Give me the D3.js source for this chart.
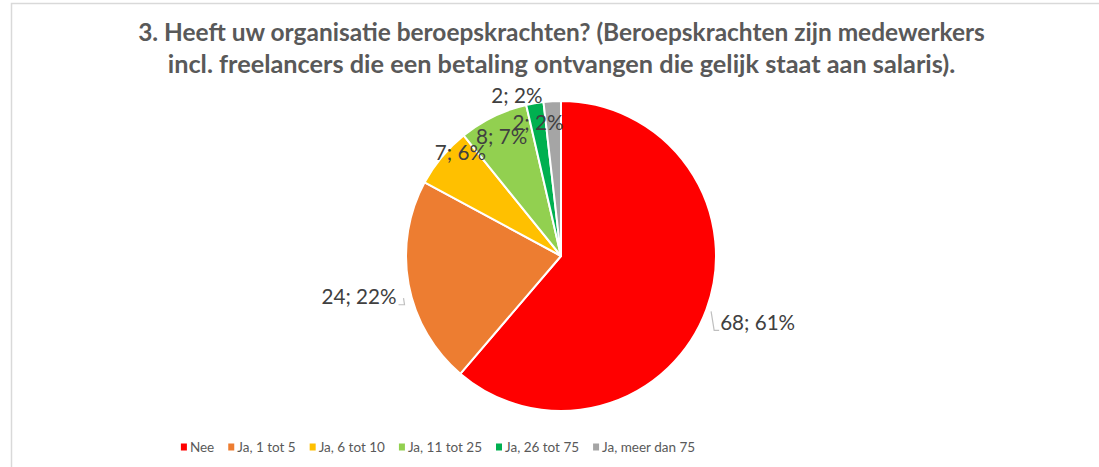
<!DOCTYPE html>
<html>
<head>
<meta charset="utf-8">
<script src="https://cdn.jsdelivr.net/npm/d3@7"></script>
<style>
  body { margin: 0; background: #fff; }
  svg { display: block; font-family: Lato, "Open Sans", sans-serif; }
</style>
</head>
<body>
<svg></svg>
<script>
var categories = ["Nee", "Ja, 1 tot 5", "Ja, 6 tot 10", "Ja, 11 tot 25", "Ja, 26 tot 75", "Ja, meer dan 75"];
var values = [68, 24, 7, 8, 2, 2];
var percents = [61, 22, 6, 7, 2, 2];
var colors = ["#ff0000", "#ed7d31", "#ffc000", "#92d050", "#00b050", "#a5a5a5"];
var titleLines = ["3. Heeft uw organisatie beroepskrachten? (Beroepskrachten zijn medewerkers",
                  "incl. freelancers die een betaling ontvangen die gelijk staat aan salaris)."];

// label placement: radius factor and angle shift (degrees) per slice
var labelPlace = [
  {r: 1.34, shift: -1.5, leader: true},
  {r: 1.33, shift: -1, leader: true},
  {r: 0.93, shift: 6, leader: false},
  {r: 0.86, shift: -0.5, leader: false},
  {r: 1.07, shift: -5.7, leader: false},
  {r: 0.87, shift: -6.6, leader: false}
];

var svgWidth = 1099, svgHeight = 467;
var cx = 561, cy = 256, radius = 155;

var svg = d3.select("svg")
  .attr("width", svgWidth)
  .attr("height", svgHeight);

// chart border
svg.append("rect")
  .attr("x", 11.5).attr("y", 3.5)
  .attr("width", 1100).attr("height", 480)
  .attr("fill", "none")
  .attr("stroke", "#d9d9d9")
  .attr("stroke-width", 1.5);

// font size that makes a text node match a target width
function fitSize(sel, target) {
  var fs = parseFloat(sel.attr("font-size"));
  var w = sel.node().getComputedTextLength();
  return fs * target / w;
}

var titleTargets = [847, 788];
titleLines.forEach(function(t, i) {
  var tt = svg.append("text")
    .attr("x", 561.5)
    .attr("y", 41 + i * 32)
    .attr("text-anchor", "middle")
    .attr("font-weight", "bold")
    .attr("font-size", 23)
    .attr("fill", "#595959")
    .text(t);
  tt.attr("font-size", fitSize(tt, titleTargets[i]).toFixed(2));
});

var pie = d3.pie().sort(null).value(function(d) { return d; });
var arcs = pie(values);
var arc = d3.arc().innerRadius(0).outerRadius(radius);

var g = svg.append("g").attr("transform", "translate(" + cx + "," + cy + ")");

g.selectAll("path.slice")
  .data(arcs)
  .enter()
  .append("path")
  .attr("class", "slice")
  .attr("d", arc)
  .attr("fill", function(d, i) { return colors[i]; })
  .attr("stroke", "#fff")
  .attr("stroke-width", 2)
  .attr("stroke-linejoin", "round");

function polar(angle, r) {
  return [Math.sin(angle) * r, -Math.cos(angle) * r];
}

var labelSize = 19;
var labels = [];
arcs.forEach(function(d, i) {
  var p = labelPlace[i];
  var mid = (d.startAngle + d.endAngle) / 2 + p.shift * Math.PI / 180;
  var pos = polar(mid, radius * p.r);
  var txt = g.append("text")
    .attr("x", pos[0])
    .attr("y", pos[1])
    .attr("dy", "0.35em")
    .attr("text-anchor", "middle")
    .attr("font-size", labelSize)
    .attr("fill", "#404040")
    .text(values[i] + "; " + percents[i] + "%");
  labels.push({txt: txt, pos: pos, d: d, p: p});
});
labelSize = fitSize(labels[0].txt, 75);
labels.forEach(function(l) {
  l.txt.attr("font-size", labelSize.toFixed(2));
  if (l.p.leader) {
    var w = l.txt.node().getComputedTextLength();
    var d = l.d, pos = l.pos;
    var right = pos[0] > 0;
    var mid = (d.startAngle + d.endAngle) / 2;
    var ex = right ? pos[0] - w / 2 - 1 : pos[0] + w / 2 + 2;
    var ey = pos[1] + 7.5;
    var a = right ? polar(mid, radius + 5) : polar(mid - 0.077, radius + 8);
    var kx = right ? ex - 5 : ex + 6;
    g.append("path")
      .attr("d", "M" + a[0] + "," + a[1] + "L" + kx + "," + ey + "L" + ex + "," + ey)
      .attr("fill", "none")
      .attr("stroke", "#bfbfbf")
      .attr("stroke-width", 1.2);
  }
});

// legend, items flowed left to right and centred
var legendSize = 13.5, legendGap = 14, legendCenter = 438;
var legend = svg.selectAll("g.legend")
  .data(categories)
  .enter()
  .append("g")
  .attr("class", "legend");

legend.append("rect")
  .attr("x", 0).attr("y", -3.5)
  .attr("width", 6).attr("height", 7)
  .attr("fill", function(d, i) { return colors[i]; });

var legendText = legend.append("text")
  .attr("x", 9)
  .attr("dy", "0.35em")
  .attr("font-size", legendSize)
  .attr("fill", "#595959")
  .text(function(d) { return d; });

var widths = legendText.nodes().map(function(n) { return 9 + n.getComputedTextLength(); });
var total = d3.sum(widths) + legendGap * (widths.length - 1);
var lx = legendCenter - total / 2;
legend.attr("transform", function(d, i) {
  var x = lx;
  lx += widths[i] + legendGap;
  return "translate(" + x + ",447)";
});
</script>
</body>
</html>
